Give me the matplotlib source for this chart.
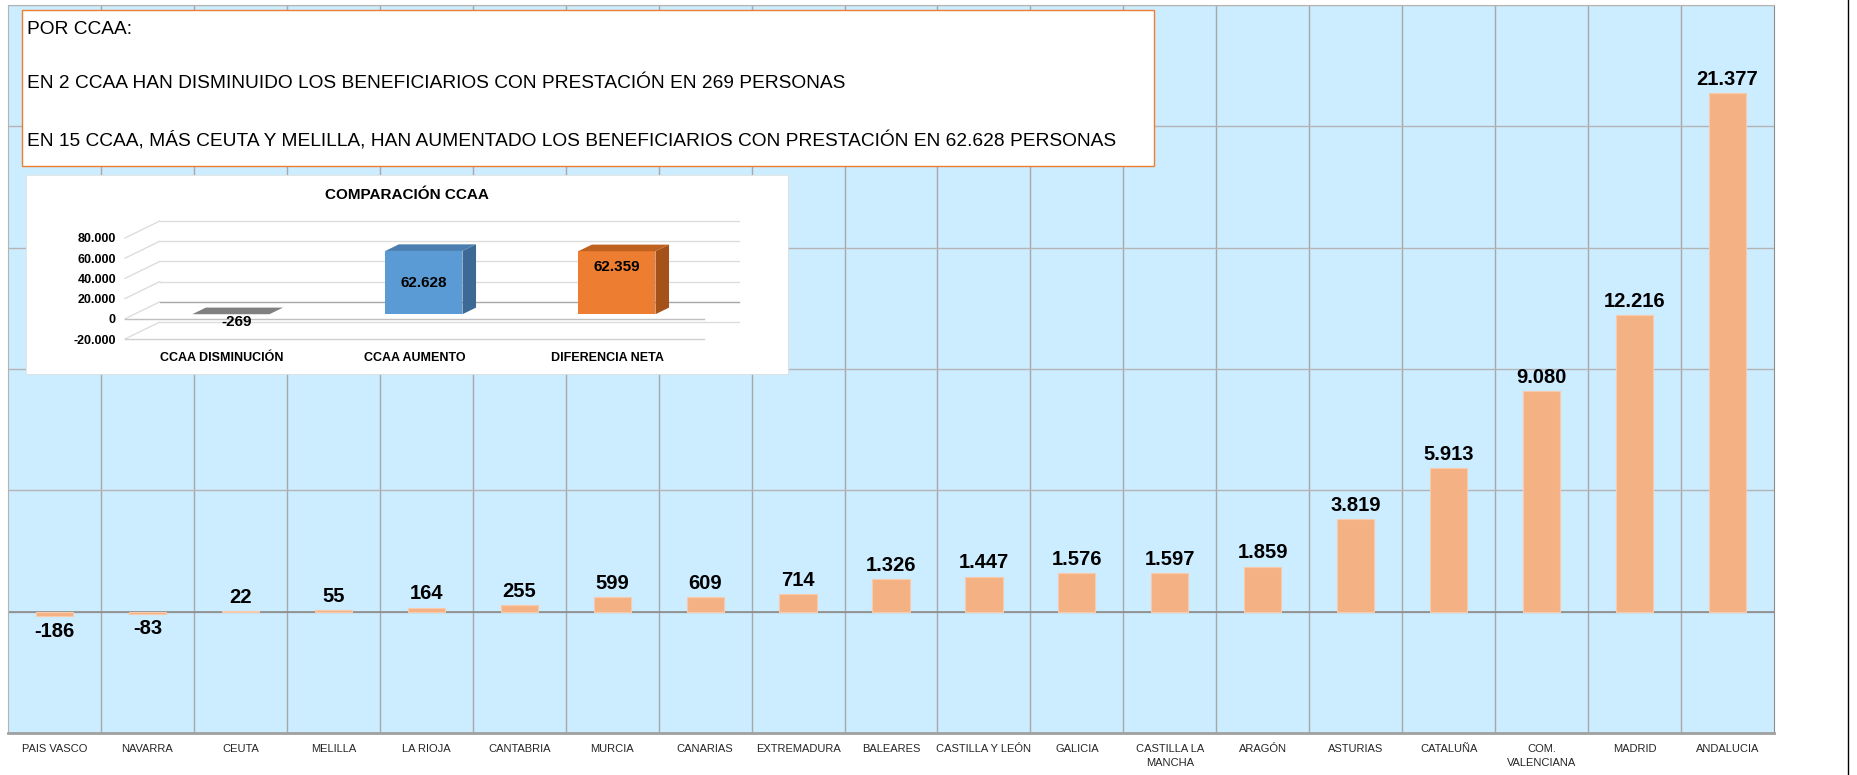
import numpy as np
import matplotlib
matplotlib.use('Agg')
import matplotlib.pyplot as plt
from matplotlib.patches import Rectangle, Polygon
from matplotlib.lines import Line2D

plt.rcParams['font.family'] = ['Liberation Sans', 'DejaVu Sans']

# main chart data
regiones = ['PAIS VASCO', 'NAVARRA', 'CEUTA', 'MELILLA', 'LA RIOJA', 'CANTABRIA', 'MURCIA',
            'CANARIAS', 'EXTREMADURA', 'BALEARES', 'CASTILLA Y LEÓN', 'GALICIA',
            'CASTILLA LA\nMANCHA', 'ARAGÓN', 'ASTURIAS', 'CATALUÑA', 'COM.\nVALENCIANA',
            'MADRID', 'ANDALUCIA']
diferencia = [-186, -83, 22, 55, 164, 255, 599, 609, 714, 1326, 1447, 1576, 1597, 1859,
              3819, 5913, 9080, 12216, 21377]

# inset chart data
comp_cats = ['CCAA DISMINUCIÓN', 'CCAA AUMENTO', 'DIFERENCIA NETA']
comp_vals = [-269, 62628, 62359]

texto = ['POR CCAA:',
         'EN 2 CCAA HAN DISMINUIDO LOS BENEFICIARIOS CON PRESTACIÓN EN 269 PERSONAS',
         'EN 15 CCAA, MÁS CEUTA Y MELILLA, HAN AUMENTADO LOS BENEFICIARIOS CON PRESTACIÓN EN 62.628 PERSONAS']


def fmt(v):
    return f'{v:,}'.replace(',', '.')


W, H = 1858, 775
def fx(px): return px / W
def fy(py): return 1 - py / H

fig = plt.figure(figsize=(W / 100, H / 100), dpi=100)

# main bar chart
ax = fig.add_axes([fx(8), fy(733), (1774 - 8) / W, (733 - 5) / H], zorder=0)
ax.set_facecolor('#CCECFF')
x = np.arange(len(regiones))
ax.bar(x, diferencia, width=0.4, color='#F4B183', edgecolor='#F8CBAD', linewidth=0.8, zorder=3)
ax.set_xlim(-0.5, len(regiones) - 0.5)
ax.set_ylim(-5000, 25000)
ax.set_yticks(range(-5000, 25001, 5000))
ax.set_yticklabels([])
ax.tick_params(axis='y', length=0)
ax.set_xticks(x, regiones, fontsize=8, color='#262626', linespacing=1.45)
ax.tick_params(axis='x', length=0, pad=8)
ax.set_xticks(np.arange(0.5, len(regiones) - 1, 1), minor=True)
ax.tick_params(axis='x', which='minor', length=0)
ax.grid(axis='y', color='#B4B4B4', lw=1, zorder=1)
ax.grid(axis='x', which='minor', color='#A8A8A8', lw=1, zorder=1)
ax.axhline(0, color='#8C8C8C', lw=1.2, zorder=2)
for s in ['left', 'top']:
    ax.spines[s].set_color('#B4B4B4')
ax.spines['right'].set_color('#8C8C8C')
ax.spines['bottom'].set_color('#A0A0A0')
ax.spines['bottom'].set_linewidth(2)

for i, v in enumerate(diferencia):
    if v > 0:
        ax.annotate(fmt(v), (i, v), xytext=(0, 6), textcoords='offset points', ha='center',
                    va='baseline', fontsize=14.5, fontweight='bold', zorder=5)
    else:
        ax.annotate(fmt(v), (i, v), xytext=(0, -4), textcoords='offset points', ha='center',
                    va='top', fontsize=14.5, fontweight='bold', zorder=5)

# page border line on the right
fig.add_artist(Line2D([fx(1848), fx(1848)], [0, 1], color='black', lw=1, transform=fig.transFigure))

# text box
fig.patches.append(Rectangle((fx(22), fy(166)), (1154 - 22) / W, (166 - 10) / H,
                             transform=fig.transFigure, facecolor='white',
                             edgecolor='#ED7D31', lw=1, zorder=1))
for t, yy in zip(texto, [29, 84, 141]):
    fig.text(fx(27), fy(yy), t, ha='left', va='center', fontsize=13.8, color='black', zorder=4)

# inset white box
box = fig.add_axes([fx(26), fy(374), (788 - 26) / W, (374 - 175) / H], zorder=2)
box.set_facecolor('white')
box.set_xticks([])
box.set_yticks([])
for s in box.spines.values():
    s.set_color('#E0E0E0')
    s.set_linewidth(0.6)
box.text(0.5, 1 - (195 - 175) / 199, 'COMPARACIÓN CCAA', transform=box.transAxes,
         ha='center', va='center', fontsize=11, fontweight='bold')

# inset pseudo-3D chart
ax2 = fig.add_axes([fx(125), fy(339), 579 / W, 101 / H], zorder=3)
ax2.patch.set_alpha(0)
ax2.set_xlim(-0.5, 2.5)
ax2.set_ylim(-20000, 80000)
for s in ax2.spines.values():
    s.set_visible(False)
ticks = list(range(-20000, 80001, 20000))
ax2.set_yticks(ticks, [fmt(t) for t in ticks], fontsize=9, fontweight='bold')
ax2.tick_params(axis='y', length=0, pad=6.5)
ax2.set_xticks(range(3), comp_cats, fontsize=9, fontweight='bold')
ax2.tick_params(axis='x', length=0, pad=9)

dx, dy = 0.18, 16800
for t in ticks:
    c = '#A6A6A6' if t == 0 else '#DDDDDD'
    ax2.plot([-0.5 + dx, 2.5 + dx], [t + dy, t + dy], color=c, lw=1, clip_on=False, zorder=1)
    ax2.plot([-0.5, -0.5 + dx], [t, t + dy], color='#DDDDDD', lw=1, clip_on=False, zorder=1)
for t in [-20000, 0]:
    ax2.plot([-0.5, 2.5], [t, t], color='#BFBFBF' if t == 0 else '#D0D0D0', lw=1,
             clip_on=False, zorder=1)

front = ['#7F7F7F', '#5B9BD5', '#ED7D31']
top = ['#808080', '#4A7EB0', '#C0621F']
side = ['#6B6B6B', '#3D6A94', '#A5521A']
t0, t1 = 0.27, 0.39
sx, sy = t0 * dx, t0 * dy
bx, by = t1 * dx, t1 * dy
bw = 0.4
xs = np.arange(3) + sx
ax2.bar(xs, comp_vals, width=bw, bottom=sy, color=front, zorder=3, clip_on=False)
for i, v in enumerate(comp_vals):
    xl, xr = xs[i] - bw / 2, xs[i] + bw / 2
    yt = sy + max(v, 0)
    yb = sy + min(v, 0)
    ax2.add_patch(Polygon([(xl, yt), (xr, yt), (xr + bx, yt + by), (xl + bx, yt + by)],
                          closed=True, facecolor=top[i], edgecolor='none', zorder=3, clip_on=False))
    if v > 0:
        ax2.add_patch(Polygon([(xr, yb), (xr, yt), (xr + bx, yt + by), (xr + bx, yb + by)],
                              closed=True, facecolor=side[i], edgecolor='none', zorder=3,
                              clip_on=False))

ax2.text(xs[0] + 0.03, sy - 900, fmt(comp_vals[0]), ha='center', va='top', fontsize=11,
         fontweight='bold', zorder=5)
ax2.text(xs[1], sy + comp_vals[1] * 0.49, fmt(comp_vals[1]), ha='center', va='center',
         fontsize=11, fontweight='bold', zorder=5)
ax2.text(xs[2], sy + comp_vals[2] * 0.75, fmt(comp_vals[2]), ha='center', va='center',
         fontsize=11, fontweight='bold', zorder=5)

fig.savefig('out.png', dpi=100, facecolor='white')
